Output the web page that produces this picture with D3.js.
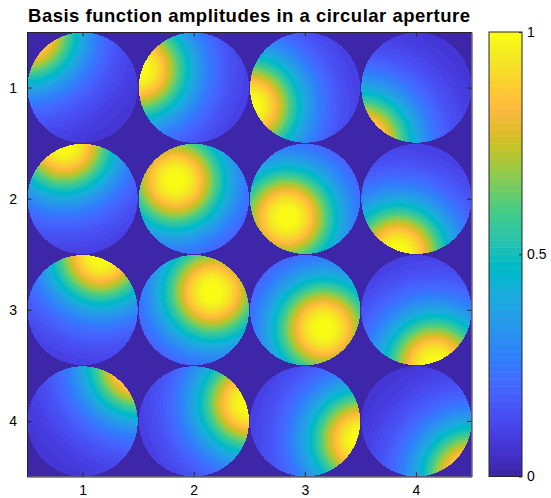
<!DOCTYPE html>
<html><head><meta charset="utf-8">
<script src="https://cdn.jsdelivr.net/npm/d3@7"></script>
<style>body{margin:0;background:#fff} svg{display:block}</style>
</head><body>
<svg id="chart" width="551" height="498"></svg>
<script>
// ---- data ----
const rows = [1, 2, 3, 4];
const cols = [1, 2, 3, 4];
const peakX = [-1, -1/3, 1/3, 1];   // actuator x position (aperture units) for each row
const peakY = [1, 1/3, -1/3, -1];   // actuator y position (aperture units) for each column
const halfAmpDistance = 0.85;       // amplitude = 1 / (1 + (d/halfAmpDistance)^falloffPower)
const falloffPower = 2.6;
const apertureRadius = 0.495;       // in axis units
const xTicks = [1, 2, 3, 4];
const yTicks = [1, 2, 3, 4];
const cbarTicks = [0, 0.5, 1];
const cbarTickLabels = ["0", "0.5", "1"];
const titleText = "Basis function amplitudes in a circular aperture";
const parula = [
[0.2422,0.1504,0.6603],[0.2504,0.1650,0.7076],[0.2578,0.1818,0.7511],[0.2647,0.1978,0.7952],
[0.2706,0.2147,0.8364],[0.2751,0.2342,0.8710],[0.2783,0.2559,0.8991],[0.2803,0.2782,0.9221],
[0.2813,0.3006,0.9414],[0.2810,0.3228,0.9579],[0.2795,0.3447,0.9717],[0.2760,0.3667,0.9829],
[0.2699,0.3892,0.9906],[0.2602,0.4123,0.9952],[0.2440,0.4358,0.9988],[0.2206,0.4603,0.9973],
[0.1963,0.4847,0.9892],[0.1834,0.5074,0.9798],[0.1786,0.5289,0.9682],[0.1764,0.5499,0.9520],
[0.1687,0.5703,0.9359],[0.1540,0.5902,0.9218],[0.1460,0.6091,0.9079],[0.1380,0.6276,0.8973],
[0.1248,0.6459,0.8883],[0.1113,0.6635,0.8763],[0.0952,0.6798,0.8598],[0.0689,0.6948,0.8394],
[0.0297,0.7082,0.8163],[0.0036,0.7203,0.7917],[0.0067,0.7312,0.7660],[0.0433,0.7411,0.7394],
[0.0964,0.7500,0.7120],[0.1408,0.7584,0.6842],[0.1717,0.7670,0.6554],[0.1938,0.7758,0.6251],
[0.2161,0.7843,0.5923],[0.2470,0.7918,0.5567],[0.2906,0.7973,0.5188],[0.3406,0.8008,0.4789],
[0.3909,0.8029,0.4354],[0.4456,0.8024,0.3909],[0.5044,0.7993,0.3480],[0.5616,0.7942,0.3045],
[0.6174,0.7876,0.2612],[0.6720,0.7793,0.2227],[0.7242,0.7698,0.1910],[0.7738,0.7598,0.1646],
[0.8203,0.7498,0.1535],[0.8634,0.7406,0.1596],[0.9035,0.7330,0.1774],[0.9393,0.7288,0.2100],
[0.9728,0.7298,0.2394],[0.9956,0.7434,0.2371],[0.9970,0.7659,0.2199],[0.9952,0.7893,0.2028],
[0.9892,0.8136,0.1885],[0.9786,0.8386,0.1766],[0.9676,0.8639,0.1643],[0.9610,0.8890,0.1537],
[0.9597,0.9135,0.1423],[0.9628,0.9373,0.1265],[0.9691,0.9606,0.1064],[0.9769,0.9839,0.0805]];

// ---- layout ----
const plot = {x0: 27, x1: 471.5, y0: 32, y1: 476.5};
const cbar = {x0: 489, x1: 522, y0: 32, y1: 476.5};
const axisColor = "#262626";
const fontFam = "'Liberation Sans', Arial, Helvetica, sans-serif";

const svg = d3.select("#chart");
const x = d3.scaleLinear().domain([0.5, 4.5]).range([plot.x0, plot.x1]);
const y = d3.scaleLinear().domain([0.5, 4.5]).range([plot.y0, plot.y1]);
const parulaRGB = parula.map(c => c.map(v => Math.round(v * 255)));
const color = d3.scaleQuantize().domain([0, 1]).range(d3.range(parula.length));

function amplitude(xv, yv) {
  const c = Math.min(4, Math.max(1, Math.round(xv)));
  const r = Math.min(4, Math.max(1, Math.round(yv)));
  const dx = xv - c, dy = yv - r;
  if (dx * dx + dy * dy > apertureRadius * apertureRadius) return 0;
  const u = dx / apertureRadius, v = -dy / apertureRadius;
  const px = peakX[rows.indexOf(r)], py = peakY[cols.indexOf(c)];
  const d = Math.hypot(u - px, v - py);
  return 1 / (1 + Math.pow(d / halfAmpDistance, falloffPower));
}

// image
const W = Math.round(plot.x1 - plot.x0), H = Math.round(plot.y1 - plot.y0);
const canvas = document.createElement("canvas");
canvas.width = W; canvas.height = H;
const ctx = canvas.getContext("2d");
const img = ctx.createImageData(W, H);
for (let j = 0; j < H; j++) {
  const yv = y.invert(plot.y0 + (j + 0.5) * (plot.y1 - plot.y0) / H);
  for (let i = 0; i < W; i++) {
    const xv = x.invert(plot.x0 + (i + 0.5) * (plot.x1 - plot.x0) / W);
    const k = color(amplitude(xv, yv));
    const rgb = parulaRGB[k];
    const o = (j * W + i) * 4;
    img.data[o] = rgb[0]; img.data[o + 1] = rgb[1]; img.data[o + 2] = rgb[2]; img.data[o + 3] = 255;
  }
}
ctx.putImageData(img, 0, 0);
svg.append("image")
  .attr("x", plot.x0).attr("y", plot.y0)
  .attr("width", plot.x1 - plot.x0).attr("height", plot.y1 - plot.y0)
  .attr("preserveAspectRatio", "none")
  .style("image-rendering", "pixelated")
  .attr("href", canvas.toDataURL());

// axes
function styleAxis(g) {
  g.selectAll("path").attr("stroke", axisColor).attr("stroke-width", 1);
  g.selectAll("line").attr("stroke", axisColor).attr("stroke-width", 1);
  g.selectAll("text").attr("fill", "#000").style("font-family", fontFam).style("font-size", "14px");
}
svg.append("g").attr("transform", `translate(0,${plot.y1})`)
  .call(d3.axisBottom(x).tickValues(xTicks).tickFormat(d3.format("d")).tickSizeInner(-4.5).tickSizeOuter(0).tickPadding(9))
  .call(styleAxis);
svg.append("g").attr("transform", `translate(0,${plot.y0})`)
  .call(d3.axisTop(x).tickValues(xTicks).tickFormat("").tickSizeInner(-4.5).tickSizeOuter(0))
  .call(styleAxis);
svg.append("g").attr("transform", `translate(${plot.x0},0)`)
  .call(d3.axisLeft(y).tickValues(yTicks).tickFormat(d3.format("d")).tickSizeInner(-4.5).tickSizeOuter(0).tickPadding(10))
  .call(styleAxis);
svg.append("g").attr("transform", `translate(${plot.x1},0)`)
  .call(d3.axisRight(y).tickValues(yTicks).tickFormat("").tickSizeInner(-4.5).tickSizeOuter(0))
  .call(styleAxis);

// colorbar
const cy = d3.scaleLinear().domain([0, 1]).range([cbar.y1, cbar.y0]);
const nC = parula.length;
svg.append("g").selectAll("rect").data(parulaRGB).join("rect")
  .attr("x", cbar.x0).attr("width", cbar.x1 - cbar.x0)
  .attr("y", (d, i) => cy((i + 1) / nC))
  .attr("height", (d, i) => cy(i / nC) - cy((i + 1) / nC) + 0.5)
  .attr("fill", d => `rgb(${d[0]},${d[1]},${d[2]})`);
svg.append("rect").attr("x", cbar.x0).attr("y", cbar.y0)
  .attr("width", cbar.x1 - cbar.x0).attr("height", cbar.y1 - cbar.y0)
  .attr("fill", "none").attr("stroke", axisColor).attr("stroke-width", 1);
svg.append("g").attr("transform", `translate(${cbar.x1},0)`)
  .call(d3.axisRight(cy).tickValues(cbarTicks).tickFormat((d, i) => cbarTickLabels[i]).tickSizeInner(-3).tickSizeOuter(0).tickPadding(5))
  .call(styleAxis)
  .call(g => g.select(".domain").remove());

// title
svg.append("text")
  .attr("x", (plot.x0 + plot.x1) / 2).attr("y", 22)
  .attr("text-anchor", "middle")
  .style("font-family", fontFam).style("font-weight", "bold").style("font-size", "18.5px")
  .style("letter-spacing", "0.5px")
  .text(titleText);
</script>
</body></html>
